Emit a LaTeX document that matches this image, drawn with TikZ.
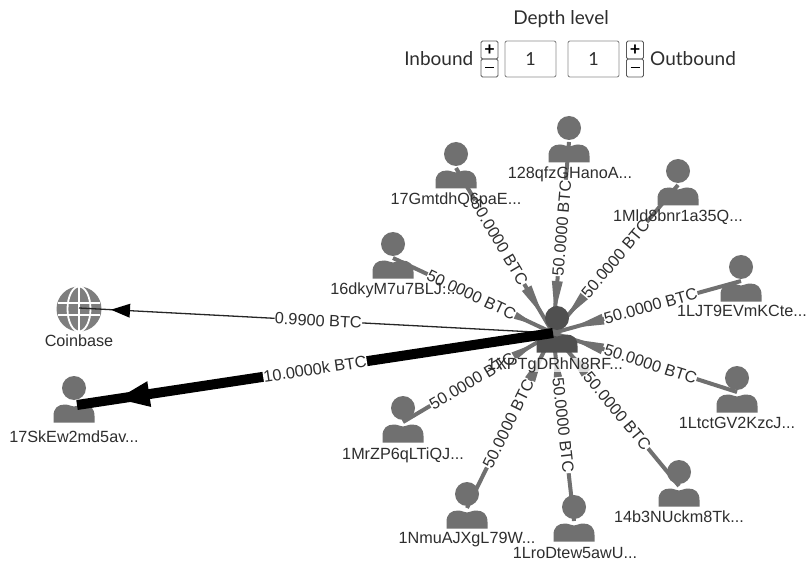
\documentclass[tikz,border=0pt]{standalone}
\usepackage{fontspec}
\setmainfont{Liberation Sans}
\newfontfamily\uifont{Lato}
\usetikzlibrary{decorations.markings}
\definecolor{usergray}{HTML}{707070}
\definecolor{hubgray}{HTML}{505050}
\definecolor{edgegray}{HTML}{707070}
\definecolor{txtgray}{HTML}{2E2E2E}
\tikzset{
  x=1pt,y=-1pt,
  hub/.style={inner sep=0pt,outer sep=0pt,minimum size=0pt},
  person/.pic={
    \fill[pic actions] (0,-14) circle[radius=12];
    \fill[pic actions] (-20.5,20.5) -- (-20.5,14) .. controls (-20.5,6) and (-16,2.5) .. (-9,2.5)
      .. controls (-5,2.5) and (-3,4.5) .. (0,4.5) .. controls (3,4.5) and (5,2.5) .. (9,2.5)
      .. controls (16,2.5) and (20.5,6) .. (20.5,14) -- (20.5,20.5) -- cycle;
  },
  nodelbl/.style={font=\fontsize{16.2}{18}\selectfont,text=txtgray,inner sep=0pt},
  edgelbl/.style={font=\fontsize{16.3}{18}\selectfont,text=txtgray,sloped,inner sep=0.3pt,fill=white},
  headat/.style n args={3}{postaction={decorate,decoration={markings,
    mark=at position #1 with {\fill (0,0) -- (#2,#3) -- (#2,-#3) -- cycle;}}}},
  flow/.style={draw=edgegray,fill=edgegray,line width=4pt,headat={20pt}{32}{5.5}},
  uitext/.style={font=\uifont\fontsize{19}{22}\selectfont,text=txtgray,inner sep=0pt},
  fieldbox/.style={draw=black!45,line width=.9pt,rounded corners=2pt,minimum width=51pt,minimum height=36pt,inner sep=0pt,
    font=\uifont\fontsize{18}{20}\selectfont,text=txtgray},
  spinbox/.style={draw=black!65,line width=.9pt,rounded corners=1.5pt,minimum width=17pt,minimum height=18pt,inner sep=0pt,
    font=\bfseries\uifont\fontsize{18}{18}\selectfont,text=black},
}
\begin{document}
\begin{tikzpicture}
\useasboundingbox[fill=white] (0,0) rectangle (808,561);

% controls
\node[uitext] (depth) at (561,19) {Depth level};
\node[uitext,anchor=east] (inb) at (473.5,59) {Inbound};
\node[spinbox] (p1) at (489.5,50) {+};
\node[spinbox] (m1) at (489.5,68) {\raisebox{1pt}{\rule{9pt}{1.8pt}}};
\node[fieldbox] (f1) at (530.5,59) {1};
\node[fieldbox] (f2) at (593.5,59) {1};
\node[spinbox] (p2) at (635,50) {+};
\node[spinbox] (m2) at (635,68) {\raisebox{1pt}{\rule{9pt}{1.8pt}}};
\node[uitext,anchor=west] (outb) at (650,59) {Outbound};

% anchors of the icons
\node[hub] (c)  at (553,333) {};
\node[hub] (a)  at (569,142) {};
\node[hub] (b)  at (456,168) {};
\node[hub] (d)  at (678,185) {};
\node[hub] (e)  at (393,258) {};
\node[hub] (f)  at (741,281) {};
\node[hub] (g)  at (737,392) {};
\node[hub] (h)  at (679,486) {};
\node[hub] (i)  at (574,521) {};
\node[hub] (j)  at (467,508) {};
\node[hub] (k)  at (403,422) {};
\node[hub] (cb) at (79,308) {};
\node[hub] (s)  at (77,405) {};

% icons
\foreach \x/\y in {569/142,456/168,678/185,393/258,741/281,737/392,679/486,574/521,467/508,403/422,74/402}
  \pic[fill=usergray] at (\x,\y) {person};
\begin{scope}[shift={(79,309)}]
  \fill[usergray!90] (0,0) circle[radius=22.5];
  \draw[white,line width=1.8pt] (0,-22.5) -- (0,22.5)
    (-21,-6) -- (21,-6) (-21,6) -- (21,6);
  \draw[white,line width=1.8pt] (0,0) ellipse[x radius=11.5,y radius=22.5];
\end{scope}

% connectors
\foreach \n in {a,b,d,e,f,g,h,i,j,k}
  \draw[flow] (c.center) -- (\n.center);
\pic[fill=hubgray] at (557,332) {person};
\draw[draw=black!85,line width=1.3pt,headat={-32pt}{-19}{7}] (c.center) -- (cb.center);
\draw[draw=black,line width=10pt,headat={-41pt}{-32}{13}] (c.center) -- (s.center);

% white backing behind the centre label, under the connector labels
\fill[white,opacity=.75] (489,358) rectangle (622,372);

% connector labels
\foreach \n/\p in {a/.55,b/.55,d/.50,e/.51,f/.52,g/.53,h/.51,i/.49,j/.52,k/.54}
  \path (c.center) -- (\n.center) node[edgelbl,pos=\p] {50.0000 BTC};
\path (c.center) -- (cb.center) node[edgelbl,pos=.495] {0.9900 BTC};
\path (c.center) -- (s.center) node[edgelbl,pos=.5] {10.0000k BTC};

% node labels
\node[nodelbl] (ta) at (570,174) {128qfzGHanoA...};
\node[nodelbl] (tb) at (456,200) {17GmtdhQ6paE...};
\node[nodelbl] (td) at (678,217) {1Mld8bnr1a35Q...};
\node[nodelbl] (te) at (393,290) {16dkyM7u7BLJ...};
\node[nodelbl] (tf) at (742,311) {1LJT9EVmKCte...};
\node[nodelbl] (tc) at (555,365) {1XPTgDRhN8RF...};
\node[nodelbl] (tg) at (737,423) {1LtctGV2KzcJ...};
\node[nodelbl] (th) at (679,517) {14b3NUckm8Tk...};
\node[nodelbl] (ti) at (575,553) {1LroDtew5awU...};
\node[nodelbl] (tj) at (467,540) {1NmuAJXgL79W...};
\node[nodelbl] (tk) at (403,455) {1MrZP6qLTiQJ...};
\node[nodelbl] (tcb) at (79,341) {Coinbase};
\node[nodelbl] (ts) at (74,437) {17SkEw2md5av...};
\end{tikzpicture}
\end{document}
